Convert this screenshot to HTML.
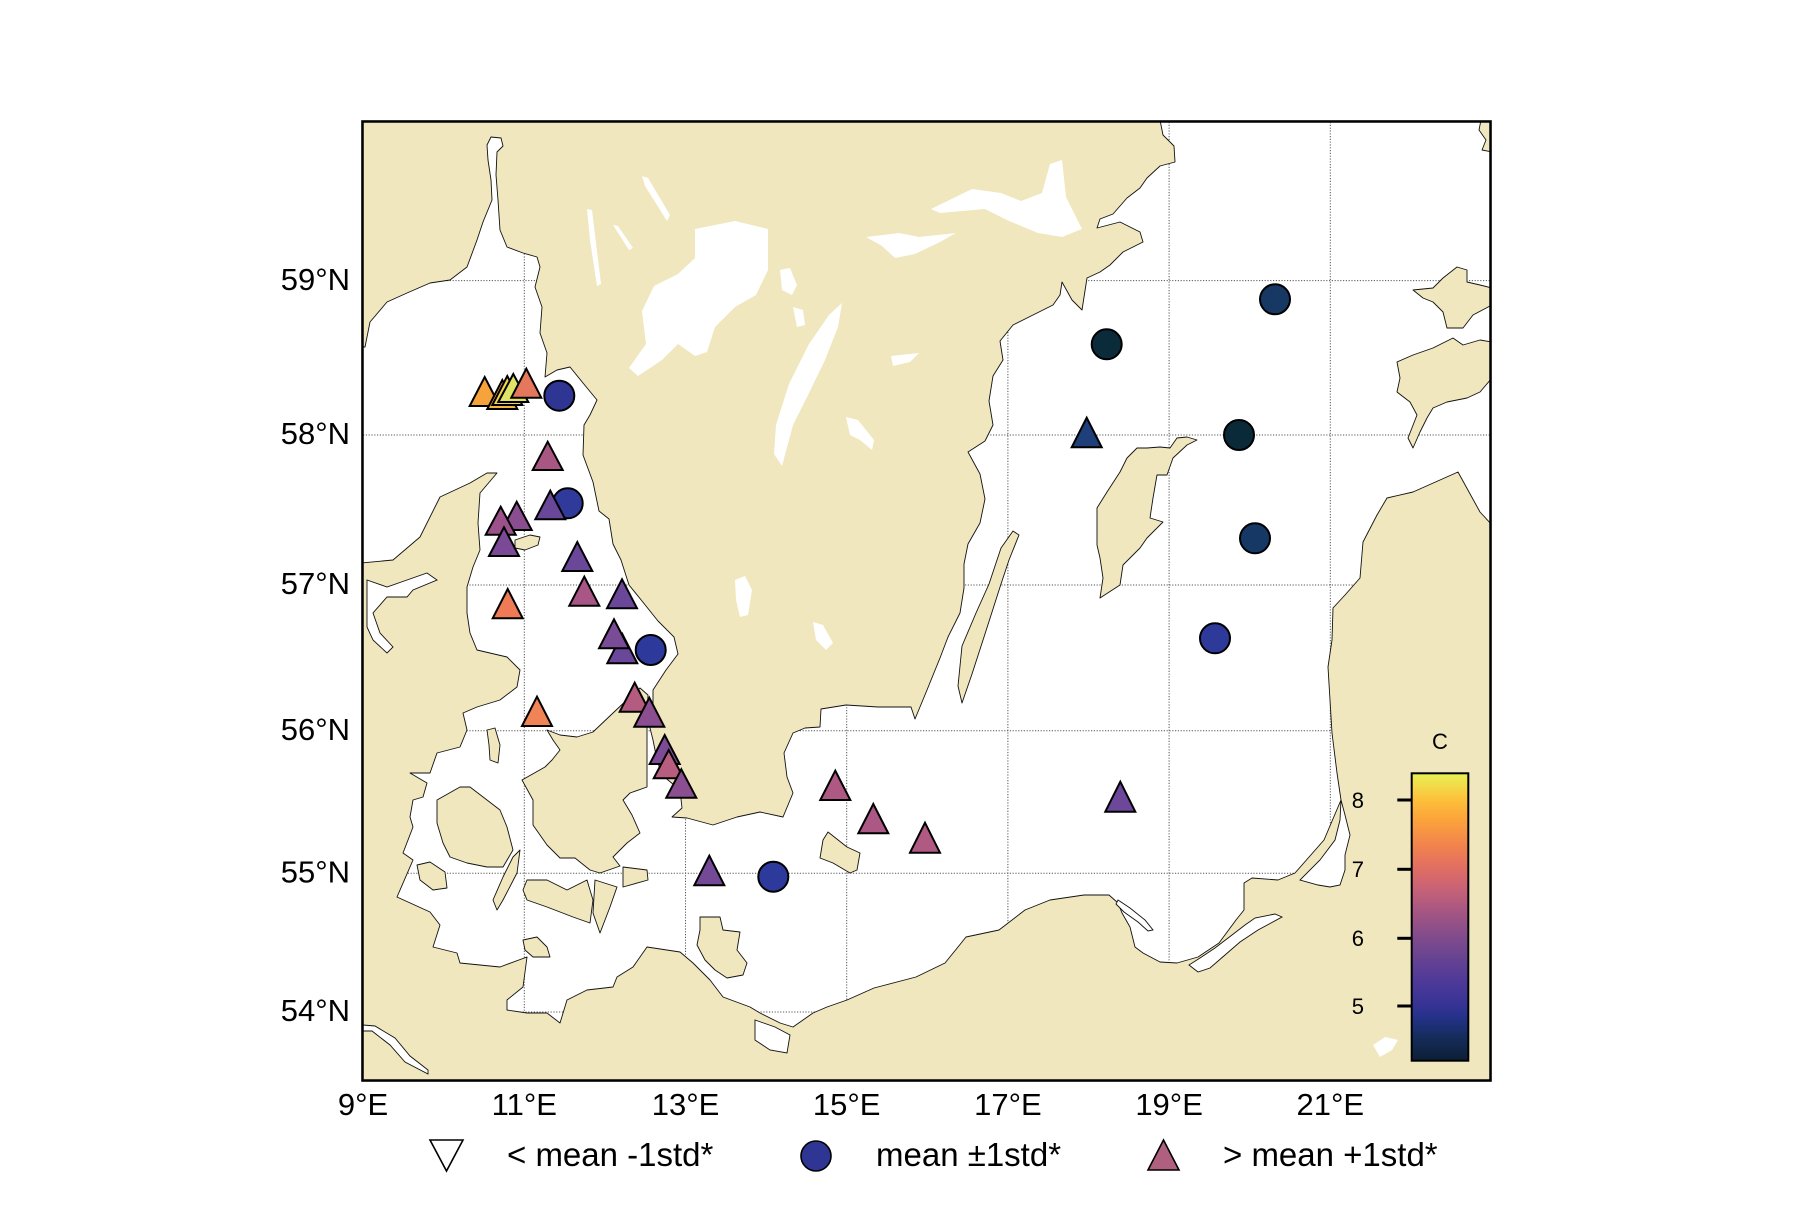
<!DOCTYPE html>
<html>
<head>
<meta charset="utf-8">
<style>
html,body{margin:0;padding:0;background:#fff;}
svg{display:block;}
text{font-family:"Liberation Sans",Arial,sans-serif;fill:#000;}
</style>
</head>
<body>
<svg width="1800" height="1227" viewBox="0 0 1800 1227" xmlns="http://www.w3.org/2000/svg">
<defs>
<clipPath id="mapclip"><rect x="363" y="122" width="1127" height="958"/></clipPath>
<linearGradient id="thermal" x1="0" y1="1" x2="0" y2="0">
<stop offset="0" stop-color="#0c1f35"/>
<stop offset="0.08" stop-color="#152c5a"/>
<stop offset="0.15" stop-color="#243188"/>
<stop offset="0.19" stop-color="#353395"/>
<stop offset="0.28" stop-color="#4f3a98"/>
<stop offset="0.37" stop-color="#6c4591"/>
<stop offset="0.43" stop-color="#814b8c"/>
<stop offset="0.52" stop-color="#a65682"/>
<stop offset="0.60" stop-color="#c96276"/>
<stop offset="0.67" stop-color="#e06e62"/>
<stop offset="0.75" stop-color="#f2834d"/>
<stop offset="0.84" stop-color="#fca43a"/>
<stop offset="0.91" stop-color="#fcc13a"/>
<stop offset="1" stop-color="#e8f256"/>
</linearGradient>
</defs>

<rect x="0" y="0" width="1800" height="1227" fill="#fff"/>

<!-- frame underlay (thick where water touches) -->
<rect x="363" y="122" width="1127" height="958" fill="none" stroke="#000" stroke-width="3.6"/>

<g clip-path="url(#mapclip)">
<rect x="363" y="122" width="1127" height="958" fill="#fff"/>
<!-- gridlines -->
<g stroke="#555" stroke-width="1" stroke-dasharray="1.2,1.6" fill="none">
<line x1="363" y1="1012" x2="1490" y2="1012"/>
<line x1="363" y1="873.3" x2="1490" y2="873.3"/>
<line x1="363" y1="730.8" x2="1490" y2="730.8"/>
<line x1="363" y1="585" x2="1490" y2="585"/>
<line x1="363" y1="435" x2="1490" y2="435"/>
<line x1="363" y1="280.6" x2="1490" y2="280.6"/>
<line x1="524.3" y1="122" x2="524.3" y2="1080"/>
<line x1="685.5" y1="122" x2="685.5" y2="1080"/>
<line x1="846.7" y1="122" x2="846.7" y2="1080"/>
<line x1="1007.9" y1="122" x2="1007.9" y2="1080"/>
<line x1="1169.1" y1="122" x2="1169.1" y2="1080"/>
<line x1="1330.3" y1="122" x2="1330.3" y2="1080"/>
</g>

<!-- land -->
<g fill="#f0e7be" stroke="#111" stroke-width="0.9" stroke-linejoin="round">
<!-- Scandinavia -->
<polygon points="361,120 1160,120 1163,135 1174,146 1175,162 1160,166 1147,178 1140,188 1127,198 1113,214 1100,219 1097,228 1120,222 1140,232 1143,242 1123,252 1110,265 1100,272 1087,278 1082,310 1072,300 1062,282 1060,295 1053,305 1033,315 1013,325 1000,341 1003,360 993,376 989,401 993,425 985,441 968,452 980,474 985,499 980,523 968,544 964,564 964,588 960,613 948,637 940,658 927,690 915,719 911,707 878,707 846,705 821,709 820,727 805,728 793,733 784,753 787,777 793,793 783,817 760,812 737,817 713,825 687,818 672,817 682,808 680,790 662,775 657,760 653,740 650,728 653,712 653,690 666,670 678,654 674,637 658,621 642,601 629,585 621,560 613,544 609,519 599,511 593,482 583,455 584,425 590,415 597,400 583,383 570,367 557,370 545,377 547,353 540,333 542,307 535,287 540,267 537,257 523,253 507,247 500,230 498,200 496,175 497,152 503,146 501,138 491,137 487,145 488,160 491,180 492,200 483,222 477,240 467,267 450,280 430,283 407,293 387,302 370,322 365,347 361,347"/>
<!-- Southern land: Jutland, Germany, Poland, Baltics -->
<polygon points="361,563 361,1082 1492,1082 1492,525 1480,512 1458,472 1413,492 1387,498 1377,515 1363,542 1360,578 1345,595 1333,608 1332,640 1328,667 1332,733 1337,773 1341,800 1324,840 1295,873 1278,880 1252,878 1244,883 1244,910 1236,920 1219,943 1198,957 1177,963 1160,962 1143,953 1135,947 1130,927 1122,913 1118,903 1109,895 1084,895 1050,900 1025,910 999,930 966,937 958,947 945,963 916,977 874,988 847,1000 827,1007 813,1013 793,1027 780,1023 760,1013 750,1007 723,997 710,980 693,963 680,952 647,947 633,967 617,977 613,987 587,990 567,1000 560,1023 547,1013 527,1013 507,1010 507,1000 523,987 527,957 500,967 460,963 457,953 433,947 440,925 430,912 397,897 413,860 403,853 413,827 410,817 413,800 423,797 427,783 410,773 430,773 437,753 460,747 467,730 463,713 477,707 500,700 517,687 520,670 507,657 477,650 470,633 467,613 467,587 473,567 480,550 478,523 480,493 497,473 487,473 470,483 440,497 420,537 393,560"/>
<!-- Zealand -->
<polygon points="547,730 560,735 577,737 593,732 613,713 630,697 640,688 648,695 647,720 647,750 647,787 630,793 623,800 632,815 640,833 627,843 613,857 620,866 600,873 590,870 575,858 560,858 547,845 533,825 533,800 522,780 545,767 552,760 560,750 553,740"/>
<!-- Lolland, Falster, Mon -->
<polygon points="527,880 547,880 567,890 587,880 593,900 590,923 573,917 547,907 527,900 523,890"/>
<polygon points="595,880 617,887 610,907 600,933 593,913"/>
<polygon points="623,867 647,870 648,880 623,887"/>
<!-- Funen, Langeland, Als -->
<polygon points="437,800 460,787 470,787 487,800 500,810 507,827 513,850 503,867 487,867 467,863 450,857 443,843 437,823"/>
<polygon points="520,850 517,873 503,900 497,910 493,900 503,877 513,857"/>
<polygon points="417,865 430,862 445,872 447,888 433,890 420,880"/>
<!-- Laeso, Samso, Fehmarn -->
<polygon points="515,540 530,535 540,537 538,545 525,550 515,548"/>
<polygon points="487,730 495,728 500,745 498,763 490,760 489,745"/>
<polygon points="523,940 537,937 547,947 550,957 533,957 525,950"/>
<!-- Rugen -->
<polygon points="700,917 720,917 723,930 740,932 737,950 747,963 743,975 727,978 715,970 705,960 697,945 700,930"/>
<!-- Bornholm -->
<polygon points="828,832 847,847 860,853 857,870 850,873 833,863 820,858 823,840"/>
<!-- Oland -->
<polygon points="1013,531 1019,535 1009,560 1001,584 993,609 984,637 972,674 962,703 958,686 962,646 976,613 989,584 1001,548"/>
<!-- Gotland -->
<polygon points="1137,448 1147,448 1160,447 1170,448 1177,438 1187,437 1197,440 1187,445 1173,458 1167,475 1157,475 1153,498 1150,518 1163,522 1147,538 1140,548 1123,565 1120,585 1100,598 1103,578 1100,558 1097,545 1097,508 1107,492 1120,472 1127,458"/>
<!-- Hiiumaa -->
<polygon points="1413,290 1433,288 1443,278 1457,267 1467,270 1467,282 1480,285 1492,288 1492,305 1473,315 1463,328 1447,328 1443,312 1433,302 1423,298"/>
<!-- Saaremaa -->
<polygon points="1397,362 1413,355 1433,348 1453,338 1463,345 1480,340 1492,342 1492,378 1480,392 1467,398 1447,402 1433,408 1427,418 1420,432 1413,448 1408,438 1417,415 1410,402 1397,392 1400,378"/>
<!-- Estonia corner -->
<polygon points="1481,120 1492,120 1492,152 1482,150 1486,140 1479,130"/>
</g>

<!-- lagoons (outlined water) -->
<g fill="#fff" stroke="#111" stroke-width="0.9">
<polygon points="1341,800 1345,815 1350,835 1345,855 1345,870 1340,885 1330,887 1318,885 1300,880 1320,860 1335,840 1340,820"/>
<polygon points="1189,965 1198,972 1210,968 1225,955 1240,942 1258,930 1282,917 1275,914 1255,918 1245,925 1232,935 1215,948 1200,958"/>
<polygon points="755,1020 775,1027 790,1035 787,1053 770,1050 755,1040"/>
<polygon points="1118,900 1130,908 1145,920 1153,930 1148,931 1138,922 1124,912 1116,904"/>
<polygon points="363,1025 375,1026 395,1038 410,1056 428,1070 428,1074 405,1062 390,1045 372,1031 363,1031"/>
<!-- Limfjord -->
<polygon points="367,580 387,587 407,580 427,573 437,580 413,590 407,597 387,597 373,613 380,633 393,647 387,653 373,640 367,627 367,597"/>
</g>

<!-- lakes (no outline) -->
<g fill="#fff">
<polygon points="695,229 735,221 768,229 768,270 756,295 735,307 715,327 707,352 695,356 678,344 662,360 638,376 629,368 646,344 642,311 654,286 678,274 695,258"/>
<polygon points="842,303 838,327 825,360 809,393 793,425 782,466 774,454 776,425 789,384 809,344 829,315"/>
<polygon points="866,237 899,233 919,237 956,233 940,242 915,254 895,258 882,246"/>
<polygon points="931,209 972,189 1001,193 1021,201 1042,193 1050,164 1062,160 1066,197 1082,229 1062,237 1038,233 1009,221 985,209 940,213"/>
<polygon points="780,270 790,268 797,285 792,295 782,290"/>
<polygon points="793,307 803,310 805,325 797,327"/>
<polygon points="846,417 858,420 874,440 872,450 860,440 850,435"/>
<polygon points="891,356 919,353 910,362 893,366"/>
<polygon points="735,580 745,576 752,590 748,615 740,617 736,600"/>
<polygon points="813,622 823,625 833,643 826,650 816,640"/>
<polygon points="642,176 648,178 670,215 667,221 645,186"/>
<polygon points="587,209 592,210 601,284 597,286 590,240"/>
<polygon points="613,225 618,226 633,248 629,250"/>
<polygon points="1373,1045 1385,1037 1398,1040 1392,1050 1380,1057"/>
</g>
</g>

<!-- frame -->
<rect x="363" y="122" width="1127" height="958" fill="none" stroke="#000" stroke-width="1.5"/>

<!-- markers: circles -->
<g stroke="#000" stroke-width="2">
<circle cx="559.3" cy="395.7" r="15" fill="#2e3592"/>
<circle cx="567.7" cy="503.3" r="15" fill="#2f3a9b"/>
<circle cx="650.7" cy="650" r="15" fill="#2e3a9b"/>
<circle cx="773.3" cy="876.7" r="15" fill="#2e3a9b"/>
<circle cx="1215" cy="638.3" r="15" fill="#2e3a99"/>
<circle cx="1275" cy="299.3" r="15" fill="#163862"/>
<circle cx="1106.7" cy="344.3" r="15" fill="#0b2a3a"/>
<circle cx="1239" cy="435" r="15" fill="#0a2a3a"/>
<circle cx="1255" cy="538.3" r="15" fill="#153864"/>
</g>

<!-- markers: triangles -->
<g stroke="#000" stroke-width="2" stroke-linejoin="miter">
<polygon points="469.7,406 484.7,377 499.7,406" fill="#f5a33a"/>
<polygon points="487.3,409 502.3,380 517.3,409" fill="#f8b83c"/>
<polygon points="492.3,405 507.3,376 522.3,405" fill="#f3d34b"/>
<polygon points="498.3,402 513.3,374 528.3,402" fill="#dfe466"/>
<polygon points="511.3,397.7 526.3,368.7 541.3,397.7" fill="#e5775c"/>
<polygon points="532.7,470 547.7,441.7 562.7,470" fill="#a85783"/>
<polygon points="535.3,519.3 550.3,490.7 565.3,519.3" fill="#6a4799"/>
<polygon points="501.7,530 516.7,501.7 531.7,530" fill="#8a4d8f"/>
<polygon points="485.7,534.7 500.7,506.7 515.7,534.7" fill="#9c518a"/>
<polygon points="489,556 504,527.3 519,556" fill="#7a4a96"/>
<polygon points="562.3,571 577.3,542 592.3,571" fill="#6b479a"/>
<polygon points="569.3,605.7 584.3,576.7 599.3,605.7" fill="#a85685"/>
<polygon points="607,608.3 622,579.3 637,608.3" fill="#6b479a"/>
<polygon points="492.7,618.3 507.7,589 522.7,618.3" fill="#ee7b56"/>
<polygon points="607.3,663.3 622.3,634 637.3,663.3" fill="#6a479a"/>
<polygon points="599,648.3 614,619.3 629,648.3" fill="#7a4b96"/>
<polygon points="619.7,711.7 634.7,682.7 649.7,711.7" fill="#b45b80"/>
<polygon points="634.3,726.7 649.3,697.7 664.3,726.7" fill="#8b4e90"/>
<polygon points="522,726 537,696.7 552,726" fill="#f08456"/>
<polygon points="649.7,764 664.7,735 679.7,764" fill="#7d4b95"/>
<polygon points="653.7,778.3 668.7,750 683.7,778.3" fill="#b75d80"/>
<polygon points="666.3,797.7 681.3,769.3 696.3,797.7" fill="#8b4e90"/>
<polygon points="694.3,885.3 709.3,855.7 724.3,885.3" fill="#744a97"/>
<polygon points="820.3,800 835.3,770.7 850.3,800" fill="#ad5983"/>
<polygon points="858.3,833.3 873.3,804 888.3,833.3" fill="#ab5884"/>
<polygon points="910,852.7 925,822.7 940,852.7" fill="#b05a83"/>
<polygon points="1105.3,811.7 1120.3,781.7 1135.3,811.7" fill="#6c479a"/>
<polygon points="1071.7,447.3 1086.7,417.7 1101.7,447.3" fill="#1f3f7a"/>
</g>

<!-- colorbar -->
<rect x="1411.7" y="773.3" width="56.6" height="287.4" fill="url(#thermal)" stroke="#000" stroke-width="2"/>
<g stroke="#000" stroke-width="3">
<line x1="1397.3" y1="800" x2="1411.7" y2="800"/>
<line x1="1397.3" y1="869.3" x2="1411.7" y2="869.3"/>
<line x1="1397.3" y1="938.3" x2="1411.7" y2="938.3"/>
<line x1="1397.3" y1="1006" x2="1411.7" y2="1006"/>
</g>
<g font-size="22" text-anchor="end">
<text x="1364" y="808">8</text>
<text x="1364" y="877">7</text>
<text x="1364" y="946">6</text>
<text x="1364" y="1014">5</text>
</g>
<text x="1440" y="749" font-size="22" text-anchor="middle">C</text>

<!-- axis tick labels -->
<g font-size="31" text-anchor="end">
<text x="350" y="1021">54°N</text>
<text x="350" y="882.5">55°N</text>
<text x="350" y="740">56°N</text>
<text x="350" y="594">57°N</text>
<text x="350" y="444">58°N</text>
<text x="350" y="290">59°N</text>
</g>
<g font-size="31" text-anchor="middle">
<text x="363.1" y="1115">9°E</text>
<text x="524.3" y="1115">11°E</text>
<text x="685.5" y="1115">13°E</text>
<text x="846.7" y="1115">15°E</text>
<text x="1007.9" y="1115">17°E</text>
<text x="1169.1" y="1115">19°E</text>
<text x="1330.3" y="1115">21°E</text>
</g>

<!-- legend -->
<polygon points="430,1140 463,1140 446.5,1171" fill="#fff" stroke="#000" stroke-width="1.6"/>
<circle cx="816" cy="1156" r="15" fill="#2e3592" stroke="#000" stroke-width="1.6"/>
<polygon points="1148,1170 1179,1170 1163.5,1140" fill="#b0607f" stroke="#000" stroke-width="1.6"/>
<g font-size="33">
<text x="507" y="1166">&lt; mean -1std*</text>
<text x="876" y="1166">mean ±1std*</text>
<text x="1223" y="1166">&gt; mean +1std*</text>
</g>
</svg>
</body>
</html>
